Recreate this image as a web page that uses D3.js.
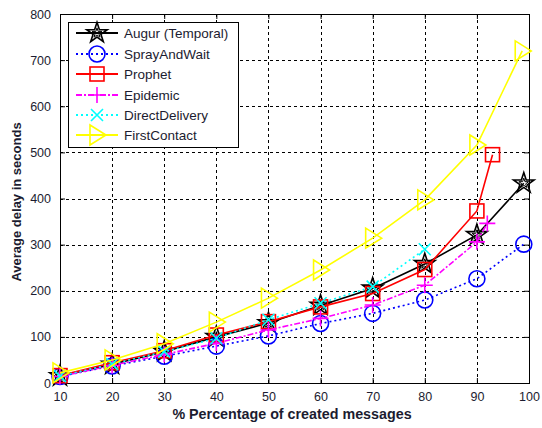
<!DOCTYPE html>
<html>
<head>
<meta charset="utf-8">
<script src="https://cdn.jsdelivr.net/npm/d3@7"></script>
<style>
  html, body { margin: 0; padding: 0; background: #fff; }
  svg { display: block; }
  text { font-family: Arial, "Liberation Sans", sans-serif; }
</style>
</head>
<body>
<svg id="chart" width="542" height="428"></svg>
<script>
// Tick labels
const xTicks = [10, 20, 30, 40, 50, 60, 70, 80, 90, 100];
const yTicks = [0, 100, 200, 300, 400, 500, 600, 700, 800];

// Series: x positions (% of created messages) and average delay (s)
const augurX = [10, 20, 30, 40, 50, 60, 70, 80, 90, 99];
const augurY = [15, 40, 68, 100, 130, 168, 205, 258, 321, 433];

const sprayX = [10, 20, 30, 40, 50, 60, 70, 80, 90, 99];
const sprayY = [14, 37, 58, 80, 102, 129, 151, 180, 226, 301];

const prophetX = [10, 20, 30, 40, 50, 60, 70, 80, 90, 93];
const prophetY = [16, 44, 70, 104, 133, 165, 194, 246, 373, 495];

const epidemicX = [10, 20, 30, 40, 50, 60, 70, 80, 90, 92];
const epidemicY = [14, 38, 62, 86, 115, 140, 169, 212, 306, 346];

const directX = [10, 20, 30, 40, 50, 60, 70, 80];
const directY = [15, 41, 68, 97, 137, 173, 209, 290];

const firstX = [10, 20, 30, 40, 50, 60, 70, 80, 90, 98.7];
const firstY = [22, 50, 85, 132, 184, 245, 314, 397, 516, 720];

const seriesNames = ["Augur (Temporal)", "SprayAndWait", "Prophet", "Epidemic", "DirectDelivery", "FirstContact"];

const series = [
  { name: seriesNames[0], xs: augurX, ys: augurY, color: "#000000", dash: null, marker: "star" },
  { name: seriesNames[1], xs: sprayX, ys: sprayY, color: "#0000ff", dash: "2,3", marker: "circle" },
  { name: seriesNames[2], xs: prophetX, ys: prophetY, color: "#ff0000", dash: null, marker: "square" },
  { name: seriesNames[3], xs: epidemicX, ys: epidemicY, color: "#ff00ff", dash: "6,2,2,2", marker: "plus" },
  { name: seriesNames[4], xs: directX, ys: directY, color: "#00ffff", dash: "2,3", marker: "x" },
  { name: seriesNames[5], xs: firstX, ys: firstY, color: "#ffff00", dash: null, marker: "triangle" }
];

const textColor = "#1c1c30";
const svg = d3.select("#chart");
const margin = { left: 60, right: 13, top: 14, bottom: 45 };
const W = 542, H = 428;
const x = d3.scaleLinear().domain([10, 100]).range([margin.left, W - margin.right]);
const y = d3.scaleLinear().domain([0, 800]).range([H - margin.bottom, margin.top]);
const x0 = x.range()[0], x1 = x.range()[1], y0 = y.range()[0], y1 = y.range()[1];

// Dashed grid
const grid = svg.append("g").attr("stroke", "#000").attr("stroke-width", 1).attr("stroke-dasharray", "3,3");
xTicks.slice(1, -1).forEach(t => {
  grid.append("line").attr("x1", Math.round(x(t)) + 0.5).attr("x2", Math.round(x(t)) + 0.5).attr("y1", y1).attr("y2", y0);
});
yTicks.slice(1, -1).forEach(t => {
  grid.append("line").attr("y1", Math.round(y(t)) + 0.5).attr("y2", Math.round(y(t)) + 0.5).attr("x1", x0).attr("x2", x1);
});

// Axes with inward ticks on all four sides
const xAxisB = d3.axisBottom(x).tickValues(xTicks).tickSizeInner(-5).tickSizeOuter(0).tickPadding(9);
const xAxisT = d3.axisTop(x).tickValues(xTicks).tickSizeInner(-5).tickSizeOuter(0).tickFormat("");
const yAxisL = d3.axisLeft(y).tickValues(yTicks).tickSizeInner(-5).tickSizeOuter(0).tickPadding(9);
const yAxisR = d3.axisRight(y).tickValues(yTicks).tickSizeInner(-5).tickSizeOuter(0).tickFormat("");

function styleAxis(g) {
  g.select(".domain").remove();
  g.selectAll("line").attr("stroke", "#000");
  g.selectAll("text").attr("fill", textColor).attr("font-size", 12.5)
    .attr("font-family", "Arial, 'Liberation Sans', sans-serif");
}
svg.append("g").attr("transform", `translate(0,${y0})`).call(xAxisB).call(styleAxis);
svg.append("g").attr("transform", `translate(0,${y1})`).call(xAxisT).call(styleAxis);
svg.append("g").attr("transform", `translate(${x0},0)`).call(yAxisL).call(styleAxis);
svg.append("g").attr("transform", `translate(${x1},0)`).call(yAxisR).call(styleAxis);

// Plot box
svg.append("rect").attr("x", x0 + 0.5).attr("y", y1 + 0.5).attr("width", x1 - x0).attr("height", y0 - y1)
  .attr("fill", "none").attr("stroke", "#000").attr("stroke-width", 1);

// Axis titles
svg.append("text").attr("x", 292).attr("y", 419).attr("text-anchor", "middle")
  .attr("font-size", 14.3).attr("font-weight", "bold").attr("fill", textColor)
  .text("% Percentage of created messages");
svg.append("text").attr("transform", `translate(21,202) rotate(-90)`).attr("text-anchor", "middle")
  .attr("font-size", 13).attr("font-weight", "bold").attr("fill", textColor)
  .text("Average delay in seconds");

// Marker drawing
function drawMarker(g, type, cx, cy, color) {
  const m = g.append("g").attr("transform", `translate(${cx},${cy})`)
    .attr("fill", "none").attr("stroke", color).attr("stroke-width", 1.6);
  if (type === "star") {
    m.append("path").attr("d", d3.symbol().type(d3.symbolStar).size(130)()).attr("stroke-width", 1.6);
    m.append("path").attr("d", d3.symbol().type(d3.symbolStar).size(30)()).attr("stroke-width", 1);
  } else if (type === "circle") {
    m.append("circle").attr("r", 8);
  } else if (type === "square") {
    m.append("rect").attr("x", -7).attr("y", -7).attr("width", 14).attr("height", 14);
  } else if (type === "plus") {
    m.append("path").attr("d", "M-8,0H8M0,-8V8");
  } else if (type === "x") {
    m.append("path").attr("d", "M-6,-6L6,6M-6,6L6,-6");
  } else if (type === "triangle") {
    m.append("path").attr("d", "M-7,-10L9,0L-7,10Z");
  }
}

const line = d3.line().x(d => x(d[0])).y(d => y(d[1]));
const plot = svg.append("g");
series.forEach(s => {
  const pts = s.xs.map((v, i) => [v, s.ys[i]]);
  const g = plot.append("g");
  g.append("path").attr("d", line(pts)).attr("fill", "none").attr("stroke", s.color)
    .attr("stroke-width", 1.6).attr("stroke-dasharray", s.dash);
  pts.forEach(p => drawMarker(g, s.marker, x(p[0]), y(p[1]), s.color));
});

// Legend
const lg = svg.append("g");
lg.append("rect").attr("x", 68.5).attr("y", 22.5).attr("width", 170).attr("height", 125)
  .attr("fill", "#fff").attr("stroke", "#000").attr("stroke-width", 1);
const legendY = [33, 54, 74, 95, 115, 135];
series.forEach((s, i) => {
  const ly = legendY[i];
  lg.append("line").attr("x1", 76).attr("x2", 118).attr("y1", ly).attr("y2", ly)
    .attr("stroke", s.color).attr("stroke-width", 1.8).attr("stroke-dasharray", s.dash);
  drawMarker(lg, s.marker, 97, ly, s.color);
  lg.append("text").attr("x", 124).attr("y", ly + 5).attr("font-size", 13.5).attr("fill", textColor).text(s.name);
});
</script>
</body>
</html>
